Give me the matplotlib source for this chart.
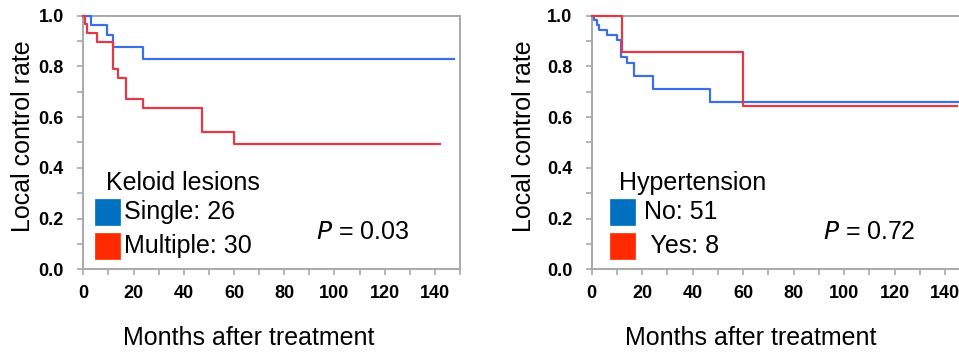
import matplotlib
matplotlib.use("Agg")
import matplotlib.pyplot as plt
from matplotlib.patches import Rectangle
from matplotlib.ticker import MultipleLocator

plt.rcParams["font.family"] = ["Liberation Sans", "DejaVu Sans"]

# Kaplan-Meier step data (months, local control rate)
single_t = [0, 2.9, 9.5, 11.9, 23.9, 147.6]
single_s = [1.0, 0.962, 0.923, 0.877, 0.831, 0.831]
multiple_t = [0, 0.7, 1.6, 5.6, 11.9, 13.9, 17.0, 23.9, 47.1, 60.0, 142.0]
multiple_s = [1.0, 0.967, 0.933, 0.897, 0.790, 0.753, 0.671, 0.635, 0.542, 0.494, 0.494]

no_ht_t = [0, 1.0, 2.0, 2.9, 5.9, 9.9, 11.6, 13.9, 16.9, 24.4, 46.9, 148.0]
no_ht_s = [1.0, 0.983, 0.963, 0.943, 0.923, 0.903, 0.838, 0.815, 0.762, 0.711, 0.661, 0.661]
yes_ht_t = [0, 12.1, 60.0, 144.5]
yes_ht_s = [1.0, 0.857, 0.643, 0.643]

x_ticks = [0, 20, 40, 60, 80, 100, 120, 140]
y_ticks = [0.0, 0.2, 0.4, 0.6, 0.8, 1.0]

panels = [
    {
        "title": "Keloid lesions",
        "labels": ["Single: 26", "Multiple: 30"],
        "series": [(single_t, single_s), (multiple_t, multiple_s)],
        "p": "0.03",
    },
    {
        "title": "Hypertension",
        "labels": ["No: 51", " Yes: 8"],
        "series": [(no_ht_t, no_ht_s), (yes_ht_t, yes_ht_s)],
        "p": "0.72",
    },
]

W, H = 959, 352
LINE_COLORS = ["#3b6fe6", "#e23848"]
BOX_COLORS = ["#0070c0", "#ff2a00"]
GRAY = "#a8a8a8"

fig = plt.figure(figsize=(W / 100, H / 100), dpi=100)


def fx(px):
    return px / W


def fy(py):
    return 1 - py / H


# axes boxes in pixels: left, right, top, bottom
boxes = [(83.3, 460.0, 15.7, 269.3), (591.7, 970.5, 15.7, 269.3)]
# legend / annotation anchors in pixels
legend_x = [(106, 95, 124), (619, 610, 644)]
p_x = [316, 823]
ylabel_x = [23, 524]
xlabel_x = [249, 751]

for i, panel in enumerate(panels):
    l, r, t, b = boxes[i]
    ax = fig.add_axes([fx(l), fy(b), fx(r - l), fy(t) - fy(b)])
    for (tt, ss), c in zip(panel["series"], LINE_COLORS):
        ax.step(tt, ss, where="post", color=c, lw=1.6, clip_on=False, zorder=3)
    ax.set_xlim(0, 150)
    ax.set_ylim(0, 1.0)
    ax.set_xticks(x_ticks)
    ax.set_yticks(y_ticks)
    ax.set_yticklabels([f"{v:.1f}" for v in y_ticks])
    ax.xaxis.set_minor_locator(MultipleLocator(10))
    ax.yaxis.set_minor_locator(MultipleLocator(0.1))
    for s in ax.spines.values():
        s.set_color(GRAY)
        s.set_linewidth(1.4)
    ax.tick_params(which="both", direction="out", length=4, width=1.2, color=GRAY)
    ax.tick_params(axis="y", which="major", pad=10, labelsize=13)
    ax.tick_params(axis="x", which="major", pad=7, labelsize=13)
    for lab in ax.get_xticklabels() + ax.get_yticklabels():
        lab.set_fontweight("bold")

    fig.text(fx(ylabel_x[i]), fy(136), "Local control rate", rotation=90,
             ha="center", va="center", fontsize=18)
    fig.text(fx(xlabel_x[i]), fy(338), "Months after treatment",
             ha="center", va="center", fontsize=18)

    tx, bx, lx = legend_x[i]
    fig.text(fx(tx), fy(183), panel["title"], ha="left", va="center", fontsize=18)
    for k, (lab, c) in enumerate(zip(panel["labels"], BOX_COLORS)):
        top = 199 + k * 34
        fig.add_artist(Rectangle((fx(bx), fy(top + 26)), fx(25), fy(0) - fy(26),
                                 transform=fig.transFigure, facecolor=c,
                                 edgecolor=c, lw=0.5))
        fig.text(fx(lx), fy(top + 13), lab, ha="left", va="center", fontsize=18)

    fig.text(fx(p_x[i]), fy(232), "$\\it{P}$ = " + panel["p"], ha="left",
             va="center", fontsize=18)

fig.savefig("out.png", dpi=100)
